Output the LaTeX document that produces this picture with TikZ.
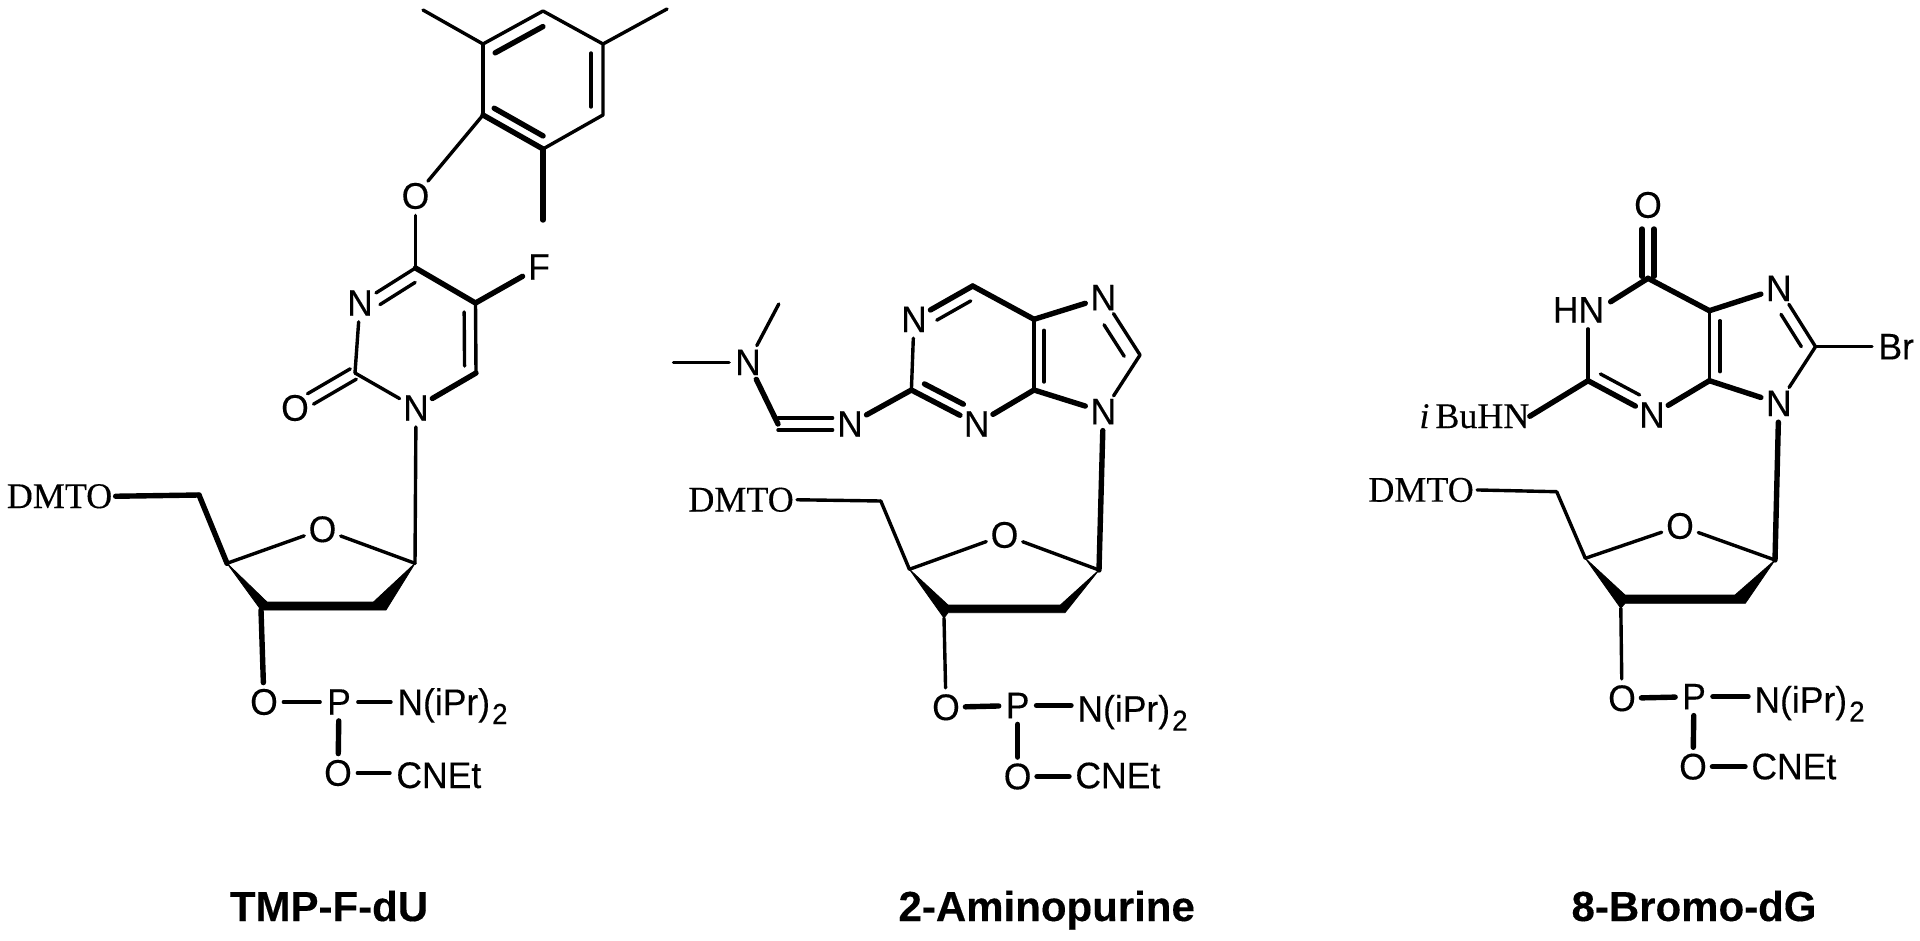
\documentclass[tikz,border=0pt]{standalone}
\usepackage{fontspec}
\usetikzlibrary{calc}
\newfontfamily\labfont[FakeStretch=0.96,FakeBold=0.25]{Liberation Sans}
\newfontfamily\serfont[FakeBold=0.2]{Liberation Serif}
\newfontfamily\ttlfont[BoldFont={Liberation Sans Bold},FakeBold=0.3]{Liberation Sans Bold}
\newcommand\lab{\labfont\fontsize{18.5}{20}\selectfont}
\newcommand\ser{\serfont\fontsize{18}{20}\selectfont}
\newcommand\ttl{\ttlfont\fontsize{21}{24}\selectfont}
\newcommand\amine{N(iPr)\hspace{1pt}\raisebox{-4.5pt}{\fontsize{14.5}{16}\selectfont 2}}
% inner stroke of a double bond: from, to, offset to the right of the direction, shorten start, shorten end
\newcommand\dbl[6][bond]{\draw[#1,shorten <=#5,shorten >=#6] ($(#2)!#4!-90:(#3)$) -- ($(#3)!#4!90:(#2)$);}
\tikzset{
  bond/.style={line width=1.7pt,line cap=round,line join=round,black},
  bondB/.style={line width=2.7pt,line cap=round,line join=round,black},
  atom/.style={circle,inner sep=0pt,minimum size=18.5pt,font=\lab},
  grp/.style={anchor=base west,inner sep=3pt,font=\lab},
  dmt/.style={anchor=base west,inner sep=1.5pt,font=\ser},
  ttlnode/.style={anchor=base,inner sep=0pt,font=\ttl},
  wedge/.style={fill=black,draw=black,line width=0.4pt,line join=round}
}
\begin{document}
\begin{tikzpicture}[x=0.5pt,y=-0.5pt]
\useasboundingbox (0,0) rectangle (1920,941);

%%% ---------- TMP-F-dU ----------
\coordinate (Aa) at (483,44); \coordinate (Ab) at (543,11); \coordinate (Ac) at (603,44);
\coordinate (Ad) at (603,115); \coordinate (Ae) at (543,149); \coordinate (Af) at (483,115);
\coordinate (Am1) at (423,10); \coordinate (Am2) at (667,9); \coordinate (Am3) at (543,220);
\coordinate (Ac4) at (415.5,268); \coordinate (Ac5) at (475.5,303);
\coordinate (Ac6) at (476,373); \coordinate (Ac2) at (355,373);
\node[atom] (AOa) at (415.5,196) {O};
\node[atom] (AN3) at (360,303) {N};
\node[atom] (AF) at (539,267) {F};
\node[atom] (AN1) at (416,408) {N};
\node[atom] (AOb) at (295,408) {O};
\coordinate (Ap5) at (199,495); \coordinate (Ap4) at (227,563.3);
\coordinate (Ap1) at (415,563.3); \coordinate (Ap3) at (261,610);
\node[atom] (AOs) at (322.5,529.3) {O};
\node[dmt] (Adm) at (3.5,508) {DMTO};
\node[atom] (AOc) at (264,702) {O};
\node[atom] (AP) at (339,702) {P};
\node[grp] (ANi) at (391,715) {\amine};
\node[atom] (AOd) at (338,773) {O};
\node[grp] (ACN) at (390,788) {CNEt};
\node[ttlnode] (At) at (329,921) {TMP-F-dU};

\draw[bond] (Aa) -- (Ab) -- (Ac) -- (Ad) -- (Ae);
\draw[bondB] (Ae) -- (Af);
\draw[bond] (Af) -- (Aa);
\draw[bond] (Aa) -- (Am1);
\draw[bond] (Ac) -- (Am2);
\draw[bondB] (Ae) -- (Am3);
\draw[bond] (Af) -- (AOa);
\draw[bond] (AOa) -- (Ac4);
\draw[bond] (AN3) -- (Ac4);
\draw[bondB] (Ac4) -- (Ac5);
\draw[bondB] (Ac5) -- (AF);
\draw[bond] (Ac5) -- (Ac6);
\draw[bondB] (Ac6) -- (AN1);
\draw[bond] (AN1) -- (Ac2);
\draw[bond] (Ac2) -- (AN3);
\dbl[bondB]{Aa}{Ab}{6.8pt}{3.2pt}{3.8pt}
\dbl{Ac}{Ad}{6pt}{4.5pt}{4pt}
\dbl[bondB]{Af}{Ae}{-5.7pt}{3.2pt}{3.2pt}
\dbl{AN3}{Ac4}{6pt}{8pt}{4pt}
\dbl{Ac5}{Ac6}{5.7pt}{4.4pt}{3.5pt}
\dbl{Ac2}{AOb}{3pt}{1pt}{9pt}
\dbl{Ac2}{AOb}{-3pt}{1pt}{9pt}
\draw[bond] (AN1) -- (Ap1);
\draw[bondB] (Adm.east) -- (Ap5);
\draw[bondB] (Ap5) -- (Ap4);
\draw[bond] (Ap4) -- (AOs);
\draw[bond] (AOs) -- (Ap1);
\fill[wedge] (Ap4) -- (267,602) -- (373.5,602) -- (Ap1) -- (386,610) -- (263,610) -- (Ap3) -- cycle;
\draw[bondB] (Ap3) -- (AOc);
\draw[bond] (AOc) -- (AP);
\draw[bond] (AP) -- (AP -| ANi.west);
\draw[bondB] (AP) -- (AOd);
\draw[bond] (AOd) -- (AOd -| ACN.west);

%%% ---------- 2-Aminopurine ----------
\coordinate (Bt) at (972.7,286); \coordinate (Bc4) at (1034,319.3);
\coordinate (Bc5) at (1034,390); \coordinate (Bc2) at (911.4,390);
\coordinate (Bc8) at (1140,355); \coordinate (Bch) at (778,424);
\coordinate (Bm1) at (673.5,362.3); \coordinate (Bm2) at (778.8,304);
\node[atom] (BNa) at (914,319.3) {N};
\node[atom] (BNb) at (976.7,424) {N};
\node[atom] (BN7) at (1103.3,297.7) {N};
\node[atom] (BN9) at (1103.3,411.7) {N};
\node[atom] (BNc) at (850,424) {N};
\node[atom] (BNd) at (748,362.3) {N};
\coordinate (Bp5) at (880.8,501); \coordinate (Bp4) at (909.4,569.3);
\coordinate (Bp1) at (1099,570); \coordinate (Bp3) at (944,618);
\node[atom] (BOs) at (1004.5,535) {O};
\node[dmt] (Bdm) at (685,511.5) {DMTO};
\node[atom] (BOc) at (946,707.3) {O};
\node[atom] (BP) at (1017.6,705.5) {P};
\node[grp] (BNi) at (1071,721.7) {\amine};
\node[atom] (BOd) at (1017.6,776.5) {O};
\node[grp] (BCN) at (1069,788.3) {CNEt};
\node[ttlnode] (Bttl) at (1046.7,921) {2-Aminopurine};

\draw[bond] (Bm1) -- (BNd);
\draw[bond] (Bm2) -- (BNd);
\draw[bondB] (BNd) -- (Bch);
\dbl{Bch}{BNc}{3pt}{0pt}{8.7pt}
\dbl{Bch}{BNc}{-3pt}{0pt}{8.7pt}
\draw[bondB] (BNc) -- (Bc2);
\draw[bond] (Bc2) -- (BNa);
\draw[bondB] (BNa) -- (Bt);
\draw[bondB] (Bt) -- (Bc4);
\draw[bondB] (Bc4) -- (BN7);
\draw[bond] (Bc4) -- (Bc5);
\draw[bondB] (Bc5) -- (BNb);
\draw[bondB] (Bc2) -- (BNb);
\draw[bondB] (Bc5) -- (BN9);
\draw[bond] (BN7) -- (Bc8);
\draw[bond] (Bc8) -- (BN9);
\dbl{BNa}{Bt}{6pt}{9.7pt}{4.5pt}
\dbl[bondB]{Bc2}{BNb}{-5.7pt}{4.4pt}{10.5pt}
\dbl{Bc4}{Bc5}{-5pt}{5.5pt}{4pt}
\dbl{BN7}{Bc8}{7pt}{11.6pt}{3.7pt}
\draw[bondB] (BN9) -- (Bp1);
\draw[bond] (Bdm.east) -- (Bp5);
\draw[bond] (Bp5) -- (Bp4);
\draw[bond] (Bp4) -- (BOs);
\draw[bond] (BOs) -- (Bp1);
\fill[wedge] (Bp4) -- (948,605) -- (1060.4,605) -- (Bp1) -- (1065,612.7) -- (948,612.7) -- (Bp3) -- cycle;
\draw[bond] (Bp3) -- (BOc);
\draw[bondB] (BOc) -- (BP);
\draw[bondB] (BP) -- (BP -| BNi.west);
\draw[bondB] (BP) -- (BOd);
\draw[bondB] (BOd) -- (BOd -| BCN.west);

%%% ---------- 8-Bromo-dG ----------
\coordinate (Cc6) at (1648,278.3); \coordinate (Cc4) at (1709.4,310.7);
\coordinate (Cc5) at (1709.4,380.7); \coordinate (Cc2) at (1588,380.7);
\coordinate (Cc8) at (1815.5,346.7);
\node[atom] (COa) at (1648,205) {O};
\node[anchor=base west,inner sep=3pt,font=\lab] (CHN) at (1546.5,322.5) {HN};
\node[atom] (CNb) at (1652,415) {N};
\node[atom] (CN7) at (1778.8,288.3) {N};
\node[atom] (CN9) at (1778.8,403.3) {N};
\node[anchor=west,inner sep=3pt,font=\lab] (CBr) at (1872,346.7) {Br};
\node[anchor=base west,inner sep=0pt,font=\ser] (CIb) at (1419,428) {\textit{i}\,BuHN};
\coordinate (Cp5) at (1556.7,491.7); \coordinate (Cp4) at (1585.3,558.3);
\coordinate (Cp1) at (1775,560); \coordinate (Cp3) at (1620.8,608.3);
\node[atom] (COs) at (1680,526) {O};
\node[dmt] (Cdm) at (1365,501.7) {DMTO};
\node[atom] (COc) at (1622,698.3) {O};
\node[atom] (CP) at (1694,696.7) {P};
\node[grp] (CNi) at (1748,712.7) {\amine};
\node[atom] (COd) at (1693,766.7) {O};
\node[grp] (CCN) at (1745,779.3) {CNEt};
\node[ttlnode] (Cttl) at (1694,921) {8-Bromo-dG};

\dbl[bondB]{Cc6}{COa}{3pt}{1pt}{12pt}
\dbl[bondB]{Cc6}{COa}{-3pt}{1pt}{12pt}
\draw[bondB] ($(CHN.east)+(0,-8)$) -- (Cc6);
\draw[bondB] (Cc6) -- (Cc4);
\draw[bond] (Cc2) -- (Cc2 |- CHN.south);
\draw[bondB] (Cc2) -- (CIb.east);
\draw[bondB] (Cc2) -- (CNb);
\draw[bondB] (CNb) -- (Cc5);
\draw[bond] (Cc4) -- (Cc5);
\draw[bondB] (Cc4) -- (CN7);
\draw[bondB] (Cc5) -- (CN9);
\draw[bond] (CN7) -- (Cc8);
\draw[bond] (Cc8) -- (CN9);
\draw[bond] (Cc8) -- (CBr.west);
\dbl{Cc2}{CNb}{-5.9pt}{3.9pt}{10.2pt}
\dbl{Cc4}{Cc5}{-5.3pt}{5pt}{4.5pt}
\dbl{CN7}{Cc8}{6pt}{11.6pt}{3.8pt}
\draw[bondB] (CN9) -- (Cp1);
\draw[bond] (Cdm.east) -- (Cp5);
\draw[bond] (Cp5) -- (Cp4);
\draw[bond] (Cp4) -- (COs);
\draw[bond] (COs) -- (Cp1);
\fill[wedge] (Cp4) -- (1625,595) -- (1735,595) -- (Cp1) -- (1745.3,603.3) -- (1625,603.3) -- (Cp3) -- cycle;
\draw[bond] (Cp3) -- (COc);
\draw[bondB] (COc) -- (CP);
\draw[bondB] (CP) -- (CP -| CNi.west);
\draw[bondB] (CP) -- (COd);
\draw[bondB] (COd) -- (COd -| CCN.west);
\end{tikzpicture}
\end{document}
